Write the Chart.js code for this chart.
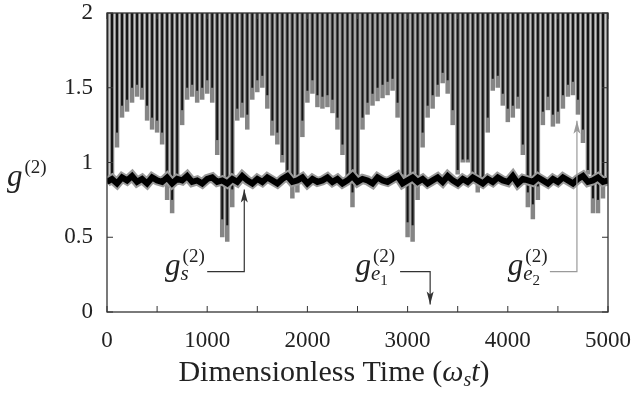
<!DOCTYPE html>
<html>
<head>
<meta charset="utf-8">
<script src="https://cdn.jsdelivr.net/npm/chart.js@4.4.1/dist/chart.umd.min.js"></script>
<style>
  html, body { margin: 0; padding: 0; background: #fff; }
</style>
</head>
<body>
<canvas id="chart" width="634" height="401"></canvas>
<script>
// sample times (dimensionless, omega_s * t)
const timeSteps = [
  0, 50, 100, 150, 200, 250, 300, 350, 400, 450,
  500, 550, 600, 650, 700, 750, 800, 850, 900, 950,
  1000, 1050, 1100, 1150, 1200, 1250, 1300, 1350, 1400, 1450,
  1500, 1550, 1600, 1650, 1700, 1750, 1800, 1850, 1900, 1950,
  2000, 2050, 2100, 2150, 2200, 2250, 2300, 2350, 2400, 2450,
  2500, 2550, 2600, 2650, 2700, 2750, 2800, 2850, 2900, 2950,
  3000, 3050, 3100, 3150, 3200, 3250, 3300, 3350, 3400, 3450,
  3500, 3550, 3600, 3650, 3700, 3750, 3800, 3850, 3900, 3950,
  4000, 4050, 4100, 4150, 4200, 4250, 4300, 4350, 4400, 4450,
  4500, 4550, 4600, 4650, 4700, 4750, 4800, 4850, 4900, 4950,
  5000
];

// lower envelope of the fast oscillation, grey trace (g_e2)
const ge2Low = [
  0.86, 0.88, 1.10, 1.30, 1.34, 1.40, 1.44, 1.42, 1.28, 1.22,
  1.20, 1.12, 0.75, 0.66, 0.85, 1.25, 1.42, 1.44, 1.40, 1.42,
  1.46, 1.40, 1.05, 0.50, 0.47, 0.70, 1.28, 1.30, 1.22, 1.42,
  1.47, 1.50, 1.36, 1.18, 1.12, 1.00, 0.88, 0.76, 0.80, 1.17,
  1.40, 1.46, 1.37, 1.36, 1.37, 1.33, 1.22, 1.05, 0.86, 0.70,
  0.86, 1.22, 1.32, 1.38, 1.41, 1.43, 1.45, 1.48, 1.30, 0.88,
  0.50, 0.47, 0.75, 1.10, 1.30, 1.36, 1.44, 1.53, 1.46, 1.25,
  0.92, 1.00, 1.00, 0.86, 0.80, 0.88, 1.20, 1.48, 1.50, 1.38,
  1.27, 1.30, 1.36, 1.05, 0.70, 0.62, 0.75, 1.25, 1.35, 1.24,
  1.26, 1.36, 1.44, 1.45, 1.32, 1.13, 0.92, 0.66, 0.66, 0.76,
  0.86
];

// lower envelope, black trace (g_e1)
const ge1Low = [
  0.86, 0.90, 1.20, 1.38, 1.42, 1.50, 1.52, 1.50, 1.38, 1.30,
  1.28, 1.20, 0.85, 0.75, 0.88, 1.35, 1.50, 1.52, 1.48, 1.50,
  1.55, 1.50, 1.15, 0.62, 0.58, 0.82, 1.36, 1.40, 1.32, 1.50,
  1.55, 1.58, 1.45, 1.28, 1.20, 1.05, 0.90, 0.84, 0.86, 1.28,
  1.48, 1.55, 1.45, 1.44, 1.45, 1.42, 1.30, 1.12, 0.90, 0.80,
  0.90, 1.30, 1.40, 1.46, 1.50, 1.52, 1.54, 1.56, 1.40, 0.92,
  0.60, 0.58, 0.84, 1.20, 1.38, 1.45, 1.52, 1.60, 1.55, 1.35,
  0.95, 1.02, 1.02, 0.90, 0.86, 0.90, 1.30, 1.56, 1.58, 1.46,
  1.36, 1.38, 1.44, 1.12, 0.80, 0.72, 0.84, 1.34, 1.44, 1.32,
  1.34, 1.45, 1.52, 1.54, 1.42, 1.22, 0.95, 0.76, 0.75, 0.84,
  0.88
];

// slow signal g_s
const gsValues = [
  0.87, 0.89, 0.86, 0.90, 0.88, 0.91, 0.87, 0.89, 0.86, 0.90,
  0.88, 0.87, 0.90, 0.86, 0.89, 0.88, 0.91, 0.87, 0.88, 0.86,
  0.89, 0.90, 0.87, 0.88, 0.86, 0.89, 0.87, 0.91, 0.88, 0.86,
  0.89, 0.87, 0.90, 0.88, 0.86, 0.89, 0.91, 0.87, 0.88, 0.90,
  0.86, 0.89, 0.87, 0.88, 0.90, 0.87, 0.89, 0.86, 0.88, 0.91,
  0.87, 0.89, 0.88, 0.86, 0.90, 0.88, 0.87, 0.89, 0.91, 0.86,
  0.88, 0.90, 0.87, 0.89, 0.86, 0.88, 0.90, 0.87, 0.91, 0.88,
  0.86, 0.89, 0.87, 0.90, 0.88, 0.86, 0.89, 0.87, 0.90, 0.88,
  0.87, 0.91, 0.86, 0.89, 0.88, 0.87, 0.90, 0.88, 0.86, 0.89,
  0.87, 0.90, 0.88, 0.86, 0.89, 0.91, 0.87, 0.88, 0.90, 0.87,
  0.88
];

const yTicks = [0, 0.5, 1, 1.5, 2];
const xMin = 0, xMax = 5000, xStep = 500;
const yMax = 2;

// labels with arrows, in data units
const notes = [
  { sub: 's', idx: '', at: [580, 0.25], path: [[1000, 0.27], [1370, 0.27], [1370, 0.82]], color: '#333' },
  { sub: 'e', idx: '1', at: [2480, 0.25], path: [[2925, 0.27], [3225, 0.27], [3225, 0.05]], color: '#333' },
  { sub: 'e', idx: '2', at: [4000, 0.25], path: [[4420, 0.27], [4690, 0.27], [4690, 1.28]], color: '#9a9a9a' },
];

const SERIF = '"Liberation Serif", "DejaVu Serif", serif';

function arrow(ctx, pts, color) {
  ctx.strokeStyle = color;
  ctx.fillStyle = color;
  ctx.lineWidth = 1.2;
  ctx.beginPath();
  pts.forEach((p, i) => i ? ctx.lineTo(p[0], p[1]) : ctx.moveTo(p[0], p[1]));
  ctx.stroke();
  const [x1, y1] = pts[pts.length - 2], [x2, y2] = pts[pts.length - 1];
  const ang = Math.atan2(y2 - y1, x2 - x1);
  ctx.save();
  ctx.translate(x2, y2);
  ctx.rotate(ang);
  ctx.beginPath();
  ctx.moveTo(0, 0);
  ctx.lineTo(-13, -3.5);
  ctx.lineTo(-10, 0);
  ctx.lineTo(-13, 3.5);
  ctx.closePath();
  ctx.fill();
  ctx.restore();
}

function gLabel(ctx, x, y, sub, idx) {
  ctx.fillStyle = '#222';
  ctx.textBaseline = 'alphabetic';
  ctx.textAlign = 'left';
  ctx.font = 'italic 31px ' + SERIF;
  ctx.fillText('g', x, y);
  const gw = ctx.measureText('g').width;
  ctx.font = '19px ' + SERIF;
  ctx.fillText('(2)', x + gw + 2, y - 13);
  if (sub) {
    ctx.font = 'italic 21px ' + SERIF;
    ctx.fillText(sub, x + gw, y + 5);
    if (idx) {
      const sw = ctx.measureText(sub).width;
      ctx.font = '15px ' + SERIF;
      ctx.fillText(idx, x + gw + sw, y + 10);
    }
  }
}

const decor = {
  id: 'decor',
  afterDraw(chart) {
    const { ctx, chartArea: a, scales: { x, y } } = chart;
    ctx.save();
    // frame
    ctx.strokeStyle = '#333';
    ctx.lineWidth = 1.3;
    ctx.strokeRect(a.left, a.top, a.right - a.left, a.bottom - a.top);
    // inward ticks
    ctx.lineWidth = 1;
    ctx.beginPath();
    x.ticks.forEach(t => {
      const px = x.getPixelForValue(t.value);
      ctx.moveTo(px, a.bottom); ctx.lineTo(px, a.bottom - 6);
      ctx.moveTo(px, a.top); ctx.lineTo(px, a.top + 6);
    });
    yTicks.forEach(v => {
      const py = y.getPixelForValue(v);
      ctx.moveTo(a.left, py); ctx.lineTo(a.left + 6, py);
      ctx.moveTo(a.right, py); ctx.lineTo(a.right - 6, py);
    });
    ctx.stroke();

    // annotations
    notes.forEach(n => {
      const pts = n.path.map(p => [x.getPixelForValue(p[0]), y.getPixelForValue(p[1])]);
      arrow(ctx, pts, n.color);
      gLabel(ctx, x.getPixelForValue(n.at[0]), y.getPixelForValue(n.at[1]), n.sub, n.idx);
    });

    // y title g^(2)
    gLabel(ctx, 7, 186, '', '');

    // x title
    const cx = 334, by = 381;
    const parts = [
      ['Dimensionless Time (', '30px ' + SERIF, 0],
      ['\u03c9', 'italic 30px ' + SERIF, 0],
      ['s', 'italic 20px ' + SERIF, 5],
      ['t', 'italic 30px ' + SERIF, 0],
      [')', '30px ' + SERIF, 0],
    ];
    let total = 0;
    parts.forEach(p => { ctx.font = p[1]; total += ctx.measureText(p[0]).width; });
    let px = cx - total / 2;
    ctx.fillStyle = '#222';
    parts.forEach(p => {
      ctx.font = p[1];
      ctx.fillText(p[0], px, by + p[2]);
      px += ctx.measureText(p[0]).width;
    });
    ctx.restore();
  }
};

new Chart(document.getElementById('chart'), {
  type: 'bar',
  data: {
    datasets: [
      {
        label: 'g_e1',
        data: timeSteps.map((t, i) => ({ x: t, y: [ge1Low[i], yMax] })),
        backgroundColor: '#141414',
        grouped: false,
        barPercentage: 0.4,
        categoryPercentage: 1,
        order: 3,
      },
      {
        label: 'g_e2',
        data: timeSteps.map((t, i) => ({ x: t, y: [ge2Low[i], yMax] })),
        backgroundColor: '#858585',
        grouped: false,
        barPercentage: 0.9,
        categoryPercentage: 1,
        order: 4,
      },
      {
        type: 'line',
        label: 'g_s halo',
        data: timeSteps.map((t, i) => ({ x: t, y: gsValues[i] })),
        borderColor: '#9a9a9a',
        borderWidth: 10,
        pointRadius: 0,
        tension: 0,
        order: 1,
      },
      {
        type: 'line',
        label: 'g_s',
        data: timeSteps.map((t, i) => ({ x: t, y: gsValues[i] })),
        borderColor: '#000',
        borderWidth: 6,
        pointRadius: 0,
        tension: 0,
        order: 0,
      },
    ],
  },
  options: {
    responsive: false,
    animation: false,
    devicePixelRatio: 1,
    layout: { padding: { left: 50, right: 26, top: 13, bottom: 0 } },
    plugins: { legend: { display: false }, tooltip: { enabled: false } },
    scales: {
      x: {
        type: 'linear',
        min: xMin,
        max: xMax,
        offset: false,
        grid: { display: false, drawTicks: false },
        border: { display: false },
        ticks: {
          stepSize: xStep,
          autoSkip: false,
          maxRotation: 0,
          padding: 15,
          color: '#222',
          font: { family: SERIF, size: 23 },
          callback: v => (v % 1000 === 0 ? String(v) : ''),
        },
        afterFit: s => { s.height = 89; s.paddingLeft = 0; s.paddingRight = 0; },
      },
      y: {
        min: 0,
        max: yMax,
        grid: { display: false, drawTicks: false },
        border: { display: false },
        ticks: {
          stepSize: 0.5,
          padding: 14,
          color: '#222',
          font: { family: SERIF, size: 23 },
          callback: v => String(v),
        },
        afterFit: s => { s.width = 57; s.paddingTop = 0; s.paddingBottom = 0; },
      },
    },
  },
  plugins: [decor],
});
</script>
</body>
</html>
